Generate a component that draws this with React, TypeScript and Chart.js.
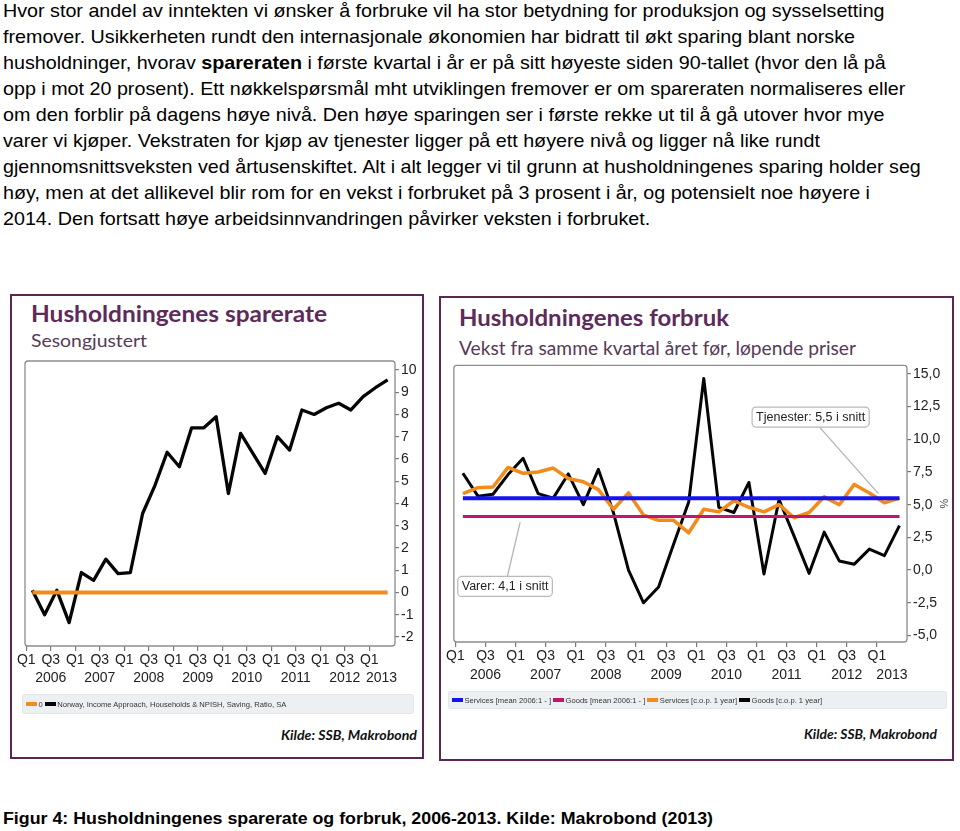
import React, { useEffect, useLayoutEffect, useRef } from "react";
import { Chart, registerables } from "chart.js";

Chart.register(...registerables);

// ---------------- data ----------------
const quarters = [
  "2006Q1", "2006Q2", "2006Q3", "2006Q4", "2007Q1", "2007Q2", "2007Q3", "2007Q4",
  "2008Q1", "2008Q2", "2008Q3", "2008Q4", "2009Q1", "2009Q2", "2009Q3", "2009Q4",
  "2010Q1", "2010Q2", "2010Q3", "2010Q4", "2011Q1", "2011Q2", "2011Q3", "2011Q4",
  "2012Q1", "2012Q2", "2012Q3", "2012Q4", "2013Q1", "2013Q2",
];
const quarterTickLabels = ["Q1", "Q3", "Q1", "Q3", "Q1", "Q3", "Q1", "Q3", "Q1", "Q3", "Q1", "Q3", "Q1", "Q3", "Q1"];
const yearLabels = ["2006", "2007", "2008", "2009", "2010", "2011", "2012", "2013"];

const savingRate = [
  0.1, -1.0, 0.1, -1.35, 0.9, 0.55, 1.5, 0.85, 0.9, 3.55, 4.8, 6.3, 5.65, 7.4, 7.4,
  7.9, 4.45, 7.15, 6.25, 5.35, 7.0, 6.4, 8.2, 8.0, 8.3, 8.5, 8.2, 8.8, 9.2, 9.55,
];
const savingZero = [
  0, 0, 0, 0, 0, 0, 0, 0, 0, 0, 0, 0, 0, 0, 0,
  0, 0, 0, 0, 0, 0, 0, 0, 0, 0, 0, 0, 0, 0, 0,
];
const servicesMean = [
  5.5, 5.5, 5.5, 5.5, 5.5, 5.5, 5.5, 5.5, 5.5, 5.5, 5.5, 5.5, 5.5, 5.5, 5.5,
  5.5, 5.5, 5.5, 5.5, 5.5, 5.5, 5.5, 5.5, 5.5, 5.5, 5.5, 5.5, 5.5, 5.5, 5.5,
];
const goodsMean = [
  4.1, 4.1, 4.1, 4.1, 4.1, 4.1, 4.1, 4.1, 4.1, 4.1, 4.1, 4.1, 4.1, 4.1, 4.1,
  4.1, 4.1, 4.1, 4.1, 4.1, 4.1, 4.1, 4.1, 4.1, 4.1, 4.1, 4.1, 4.1, 4.1, 4.1,
];
const servicesGrowth = [
  5.85, 6.3, 6.35, 7.85, 7.4, 7.5, 7.8, 7.0, 6.75, 6.15, 4.65, 5.9, 4.2, 3.8, 3.8,
  2.85, 4.65, 4.45, 5.3, 4.8, 4.45, 5.0, 4.0, 4.4, 5.6, 5.0, 6.55, 5.9, 5.15, 5.5,
];
const goodsGrowth = [
  7.4, 5.65, 5.8, 7.3, 8.55, 5.85, 5.5, 7.35, 5.0, 7.7, 4.4, 0.0, -2.5, -1.3, 2.0,
  5.2, 14.65, 4.8, 4.4, 6.7, -0.3, 5.4, 2.6, -0.25, 2.9, 0.7, 0.45, 1.6, 1.1, 3.4,
];

const savingLegend = ["0", "Norway, Income Approach, Households & NPISH, Saving, Ratio, SA"];
const consumptionLegend = [
  "Services [mean 2006:1 - ]",
  "Goods [mean 2006:1 - ]",
  "Services [c.o.p. 1 year]",
  "Goods [c.o.p. 1 year]",
];
const callouts = [
  { text: "Tjenester: 5,5 i snitt", boxX: 23.6, boxY: 11.7, pointX: 28.1, pointY: 5.85 },
  { text: "Varer: 4,1 i snitt", boxX: 3.3, boxY: -1.25, pointX: 4.3, pointY: 3.65 },
];

// ---------------- styling ----------------
const NARROW = '"Liberation Sans Narrow", "Arial Narrow", "Liberation Sans", Arial, sans-serif';
const ARIAL = '"Liberation Sans", Arial, sans-serif';
const LATO = 'Lato, "Open Sans", sans-serif';
const PURPLE = "#5e2a5a";
const C_ORANGE = "#f28a1c";
const C_BLACK = "#050505";
const C_BLUE = "#1414f0";
const C_PINK = "#c2156f";

Chart.defaults.font.family = NARROW;

const toPoints = (arr: number[]) => arr.map((y, i) => ({ x: i + 0.5, y }));
const yearPositions = yearLabels.map((_, k) => {
  const start = 4 * k;
  const end = Math.min(start + 4, quarters.length);
  return (start + end) / 2;
});

const framePlugin = {
  id: "frame",
  beforeDatasetsDraw(chart: any) {
    const { ctx, chartArea } = chart;
    const { left, top, right, bottom } = chartArea;
    ctx.save();
    ctx.strokeStyle = "#8d8d8d";
    ctx.lineWidth = 1.3;
    ctx.beginPath();
    ctx.roundRect(left, top, right - left, bottom - top, 3);
    ctx.stroke();
    ctx.restore();
  },
};

const makeCalloutPlugin = (items: typeof callouts) => ({
  id: "callouts",
  afterDatasetsDraw(chart: any) {
    const { ctx } = chart;
    const xs = chart.scales.x;
    const ys = chart.scales.y;
    ctx.save();
    for (const it of items) {
      const bx = xs.getPixelForValue(it.boxX);
      const by = ys.getPixelForValue(it.boxY);
      const px = xs.getPixelForValue(it.pointX);
      const py = ys.getPixelForValue(it.pointY);
      ctx.strokeStyle = "#b4b4b4";
      ctx.lineWidth = 1.3;
      ctx.beginPath();
      ctx.moveTo(bx, by);
      ctx.lineTo(px, py);
      ctx.stroke();
      ctx.font = `12.5px ${NARROW}`;
      const tw = ctx.measureText(it.text).width;
      const w = tw + 8;
      const h = 20;
      ctx.fillStyle = "#ffffff";
      ctx.strokeStyle = "#b9b9b9";
      ctx.lineWidth = 1.2;
      ctx.beginPath();
      ctx.roundRect(bx - w / 2, by - h / 2, w, h, 4);
      ctx.fill();
      ctx.stroke();
      ctx.fillStyle = "#222";
      ctx.textAlign = "center";
      ctx.textBaseline = "middle";
      ctx.fillText(it.text, bx, by + 0.5);
    }
    ctx.restore();
  },
});

function xAxes(min: number, max: number, qHeight: number, yHeight: number, qPad: number, yPad: number) {
  return {
    x: {
      type: "linear",
      position: "bottom",
      weight: 0,
      min,
      max,
      afterBuildTicks: (s: any) => {
        s.ticks = quarterTickLabels.map((_, k) => ({ value: 2 * k }));
      },
      afterFit: (s: any) => {
        s.height = qHeight;
      },
      ticks: {
        autoSkip: false,
        maxRotation: 0,
        padding: qPad,
        color: "#222",
        font: { size: 14 },
        callback: (_v: any, i: number) => quarterTickLabels[i],
      },
      grid: { drawOnChartArea: false, drawTicks: true, tickLength: 5, color: "#7a7a7a", lineWidth: 1.2 },
      border: { display: false },
    },
    years: {
      type: "linear",
      position: "bottom",
      weight: 1,
      min,
      max,
      afterBuildTicks: (s: any) => {
        s.ticks = yearPositions.map((v) => ({ value: v }));
      },
      afterFit: (s: any) => {
        s.height = yHeight;
      },
      ticks: {
        autoSkip: false,
        maxRotation: 0,
        padding: yPad,
        color: "#222",
        font: { size: 14 },
        callback: (_v: any, i: number) => yearLabels[i],
      },
      grid: { display: false, drawTicks: false },
      border: { display: false },
    },
  };
}

function savingConfig(): any {
  return {
    type: "line",
    data: {
      datasets: [
        { label: savingLegend[0], data: toPoints(savingZero), borderColor: C_ORANGE, borderWidth: 4 },
        { label: savingLegend[1], data: toPoints(savingRate), borderColor: C_BLACK, borderWidth: 3.3 },
      ],
    },
    options: {
      animation: false,
      responsive: false,
      maintainAspectRatio: false,
      layout: { padding: { left: 10, top: 11, right: 0, bottom: 0 } },
      plugins: { legend: { display: false }, tooltip: { enabled: false } },
      elements: { point: { radius: 0 }, line: { tension: 0, borderJoinStyle: "round" } },
      scales: {
        ...xAxes(-0.1, 30.1, 24, 25, 1, 0),
        y: {
          position: "right",
          min: -2.4,
          max: 10.4,
          afterFit: (s: any) => {
            s.width = 30;
          },
          ticks: { stepSize: 1, includeBounds: false, padding: 2, color: "#222", font: { size: 14 } },
          grid: { drawOnChartArea: false, tickLength: 4, color: "#7a7a7a", lineWidth: 1.2 },
          border: { display: false },
        },
      },
    },
    plugins: [framePlugin],
  };
}

function consumptionConfig(): any {
  return {
    type: "line",
    data: {
      datasets: [
        { label: consumptionLegend[0], data: toPoints(servicesMean), borderColor: C_BLUE, borderWidth: 4 },
        { label: consumptionLegend[1], data: toPoints(goodsMean), borderColor: C_PINK, borderWidth: 3 },
        { label: consumptionLegend[2], data: toPoints(servicesGrowth), borderColor: C_ORANGE, borderWidth: 3.5 },
        { label: consumptionLegend[3], data: toPoints(goodsGrowth), borderColor: C_BLACK, borderWidth: 3 },
      ],
    },
    options: {
      animation: false,
      responsive: false,
      maintainAspectRatio: false,
      layout: { padding: { left: 8, top: 9, right: 0, bottom: 0 } },
      plugins: { legend: { display: false }, tooltip: { enabled: false } },
      elements: { point: { radius: 0 }, line: { tension: 0, borderJoinStyle: "round" } },
      scales: {
        ...xAxes(-0.1, 30.0, 22, 26, 1, 3),
        y: {
          position: "right",
          min: -5.5,
          max: 15.65,
          afterFit: (s: any) => {
            s.width = 43;
          },
          title: { display: true, text: "%", padding: 0, color: "#444", font: { size: 11 } },
          ticks: {
            stepSize: 2.5,
            includeBounds: false,
            padding: 2,
            color: "#222",
            font: { size: 14 },
            callback: (v: any) => Number(v).toFixed(1).replace(".", ","),
          },
          grid: { drawOnChartArea: false, tickLength: 4, color: "#7a7a7a", lineWidth: 1.2 },
          border: { display: false },
        },
      },
    },
    plugins: [framePlugin, makeCalloutPlugin(callouts)],
  };
}

// ---------------- components ----------------
function ChartCanvas(props: { left: number; top: number; width: number; height: number; config: () => any }) {
  const ref = useRef<HTMLCanvasElement>(null);
  useEffect(() => {
    const chart = new Chart(ref.current as HTMLCanvasElement, props.config());
    return () => chart.destroy();
  }, []);
  return (
    <canvas
      ref={ref}
      width={props.width}
      height={props.height}
      style={{ position: "absolute", left: props.left, top: props.top, width: props.width, height: props.height }}
    />
  );
}

type FitProps = {
  x: number;
  baseline: number;
  size: number;
  family: string;
  asc: number;
  desc: number;
  width?: number;
  weight?: number | string;
  italic?: boolean;
  color?: string;
  children: React.ReactNode;
};

function FitText(p: FitProps) {
  const ref = useRef<HTMLSpanElement>(null);
  useLayoutEffect(() => {
    const el = ref.current;
    if (!el || !p.width) return;
    el.style.transform = "none";
    const w = el.getBoundingClientRect().width;
    if (w > 0) el.style.transform = `scaleX(${p.width / w})`;
  });
  const top = p.baseline - (p.size * (1 + p.asc - p.desc)) / 2;
  return (
    <span
      ref={ref}
      style={{
        position: "absolute",
        left: p.x,
        top,
        fontSize: p.size,
        lineHeight: `${p.size}px`,
        fontFamily: p.family,
        fontWeight: p.weight ?? 400,
        fontStyle: p.italic ? "italic" : "normal",
        color: p.color ?? "#000",
        whiteSpace: "nowrap",
        transformOrigin: "0 0",
      }}
    >
      {p.children}
    </span>
  );
}

const paragraph: { t: string; b?: boolean }[][] = [
  [{ t: "Hvor stor andel av inntekten vi ønsker å forbruke vil ha stor betydning for produksjon og sysselsetting" }],
  [{ t: "fremover. Usikkerheten rundt den internasjonale økonomien har bidratt til økt sparing blant norske" }],
  [
    { t: "husholdninger, hvorav " },
    { t: "spareraten", b: true },
    { t: " i første kvartal i år er på sitt høyeste siden 90-tallet (hvor den lå på" },
  ],
  [{ t: "opp i mot 20 prosent). Ett nøkkelspørsmål mht utviklingen fremover er om spareraten normaliseres eller" }],
  [{ t: "om den forblir på dagens høye nivå. Den høye sparingen ser i første rekke ut til å gå utover hvor mye" }],
  [{ t: "varer vi kjøper. Vekstraten for kjøp av tjenester ligger på ett høyere nivå og ligger nå like rundt" }],
  [{ t: "gjennomsnittsveksten ved årtusenskiftet. Alt i alt legger vi til grunn at husholdningenes sparing holder seg" }],
  [{ t: "høy, men at det allikevel blir rom for en vekst i forbruket på 3 prosent i år, og potensielt noe høyere i" }],
  [{ t: "2014. Den fortsatt høye arbeidsinnvandringen påvirker veksten i forbruket." }],
];

const PARA_SIZE = 18.5;
const PARA_SCALE = 1.065;
const PARA_LINE = 26;

function Legend(p: { left: number; top: number; width: number; height: number; labels: string[]; colors: string[] }) {
  return (
    <div
      style={{
        position: "absolute",
        left: p.left,
        top: p.top,
        width: p.width,
        height: p.height,
        background: "#edf0f3",
        borderRadius: 2,
        boxShadow: "0 0 0 1px #e2e7ea",
        display: "flex",
        alignItems: "center",
        paddingLeft: 3,
        boxSizing: "border-box",
        fontFamily: NARROW,
        fontSize: 7.6,
        color: "#333",
        whiteSpace: "nowrap",
      }}
    >
      {p.labels.map((l, i) => (
        <span key={i} style={{ display: "inline-flex", alignItems: "center", marginRight: 2 }}>
          <span style={{ display: "inline-block", width: 11, height: 3.5, background: p.colors[i], marginRight: 1.5 }} />
          {l}
        </span>
      ))}
    </div>
  );
}

export default function App() {
  return (
    <div
      style={{
        position: "absolute",
        left: 0,
        top: 0,
        width: 960,
        height: 831,
        background: "#fff",
        overflow: "hidden",
      }}
    >
      {/* body text */}
      <div style={{ position: "absolute", left: 2.5, top: 17.3 - 19.2 }}>
        {paragraph.map((line, i) => (
          <div
            key={i}
            style={{
              height: PARA_LINE,
              lineHeight: `${PARA_LINE}px`,
              fontFamily: ARIAL,
              fontSize: PARA_SIZE,
              color: "#000",
              whiteSpace: "nowrap",
              transform: `scaleX(${PARA_SCALE})`,
              transformOrigin: "0 0",
            }}
          >
            {line.map((seg, j) => (
              <span key={j} style={{ fontWeight: seg.b ? 700 : 400 }}>
                {seg.t}
              </span>
            ))}
          </div>
        ))}
      </div>

      {/* panels */}
      <div
        style={{
          position: "absolute",
          left: 10,
          top: 294,
          width: 414,
          height: 465,
          border: "2px solid #5a2752",
          boxSizing: "border-box",
          background: "#fff",
        }}
      />
      <div
        style={{
          position: "absolute",
          left: 439,
          top: 296,
          width: 515,
          height: 465,
          border: "2px solid #5a2752",
          boxSizing: "border-box",
          background: "#fff",
        }}
      />

      {/* titles */}
      <FitText x={31.3} baseline={322.3} size={22} family={LATO} asc={0.987} desc={0.213} width={296} weight={700} color={PURPLE}>
        Husholdningenes sparerate
      </FitText>
      <FitText x={31.3} baseline={347.3} size={17} family={LATO} asc={0.987} desc={0.213} width={116} color="#573a57">
        Sesongjustert
      </FitText>
      <FitText x={459.3} baseline={326.7} size={22.5} family={LATO} asc={0.987} desc={0.213} width={270} weight={700} color={PURPLE}>
        Husholdningenes forbruk
      </FitText>
      <FitText x={459.3} baseline={355} size={18.5} family={LATO} asc={0.987} desc={0.213} width={397} color="#573a57">
        Vekst fra samme kvartal året før, løpende priser
      </FitText>

      {/* charts */}
      <ChartCanvas left={15} top={350} width={410} height={345} config={savingConfig} />
      <ChartCanvas left={445} top={355} width={505} height={335} config={consumptionConfig} />

      {/* legends */}
      <Legend left={23} top={695} width={390} height={18} labels={savingLegend} colors={[C_ORANGE, C_BLACK]} />
      <Legend
        left={449}
        top={692}
        width={497}
        height={16}
        labels={consumptionLegend}
        colors={[C_BLUE, C_PINK, C_ORANGE, C_BLACK]}
      />

      {/* sources */}
      <FitText x={281.3} baseline={740.7} size={13} family={LATO} asc={0.987} desc={0.213} width={136} weight={700} italic color="#111">
        Kilde: SSB, Makrobond
      </FitText>
      <FitText x={804.3} baseline={739.3} size={13} family={LATO} asc={0.987} desc={0.213} width={133} weight={700} italic color="#111">
        Kilde: SSB, Makrobond
      </FitText>

      {/* caption */}
      <FitText x={2.5} baseline={824} size={17} family={NARROW} asc={0.905} desc={0.212} width={710} weight={700}>
        Figur 4: Husholdningenes sparerate og forbruk, 2006-2013. Kilde: Makrobond (2013)
      </FitText>
    </div>
  );
}
